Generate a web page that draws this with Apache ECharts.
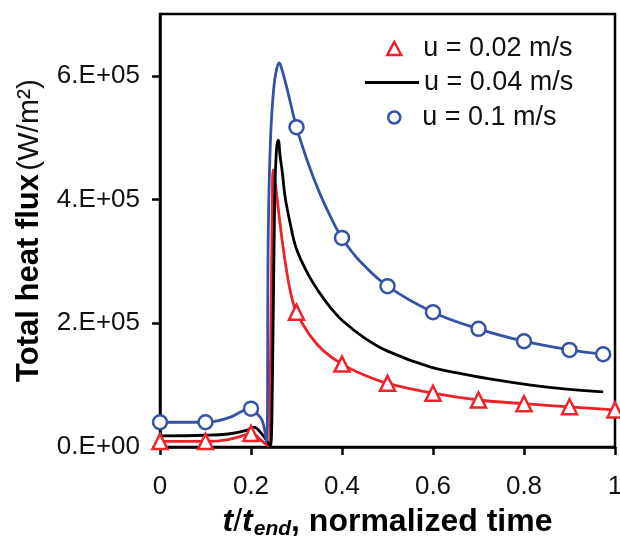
<!DOCTYPE html>
<html lang="en" style="height: 100%">
<head>
<meta charset="utf-8">
<title>Total heat flux vs normalized time</title>
</head>
<body style="height: 100%; margin: 0; background: #fff">
<div id="container" style="width: 620px; height: 536px"></div>

<script type="text/javascript" src="https://cdn.jsdelivr.net/npm/echarts/dist/echarts.min.js"></script>

<script type="text/javascript">

// Data: [t/t_end, heat flux W/m2]
var nameSlow = 'u = 0.02 m/s';
var nameMid = 'u = 0.04 m/s';
var nameFast = 'u = 0.1 m/s';

var slowCurve = [
  [0, 9e3], [0.1, 9e3], [0.15, 1.2e4], [0.19, 2.0e4], [0.2, 2.2e4], [0.21, 1.9e4],
  [0.225, 9e3], [0.238, 2e3], [0.243, 1.5e5], [0.247, 4.0e5], [0.249, 4.48e5],
  [0.256, 4.1e5], [0.264, 3.6e5], [0.275, 3.0e5], [0.287, 2.5e5], [0.3, 2.18e5],
  [0.33, 1.8e5], [0.36, 1.55e5], [0.4, 1.34e5], [0.45, 1.16e5], [0.5, 1.03e5],
  [0.6, 8.7e4], [0.7, 7.6e4], [0.8, 7.0e4], [0.9, 6.5e4], [1.0, 6.0e4]
];
var slowMarks = [
  [0, 9e3], [0.1, 9e3], [0.2, 2.2e4], [0.3, 2.18e5], [0.4, 1.34e5], [0.5, 1.03e5],
  [0.6, 8.7e4], [0.7, 7.6e4], [0.8, 7.0e4], [0.9, 6.5e4], [1.0, 6.0e4]
];

var midCurve = [
  [0, 1.8e4], [0.1, 1.9e4], [0.15, 2.1e4], [0.19, 2.7e4], [0.205, 3.2e4], [0.225, 2.0e4],
  [0.24, 4e3], [0.243, 3e3], [0.247, 1.0e5], [0.252, 4.0e5], [0.256, 4.8e5], [0.26, 4.96e5],
  [0.264, 4.7e5], [0.269, 4.43e5], [0.275, 4.04e5], [0.286, 3.62e5], [0.3, 3.2e5],
  [0.325, 2.8e5], [0.35, 2.5e5], [0.375, 2.25e5], [0.4, 2.05e5], [0.45, 1.76e5],
  [0.5, 1.55e5], [0.595, 1.29e5], [0.667, 1.18e5], [0.742, 1.08e5], [0.815, 1.0e5],
  [0.888, 9.4e4], [0.974, 8.9e4]
];

var fastCurve = [
  [0, 4.0e4], [0.1, 4.0e4], [0.15, 4.7e4], [0.2, 6.2e4], [0.21, 5.6e4], [0.225, 4.2e4],
  [0.234, 8e3], [0.238, 3.5e5], [0.243, 5.0e5], [0.25, 5.8e5], [0.256, 6.1e5],
  [0.262, 6.21e5], [0.268, 6.1e5], [0.28, 5.77e5], [0.3, 5.17e5], [0.325, 4.6e5],
  [0.35, 4.12e5], [0.375, 3.72e5], [0.4, 3.38e5], [0.44, 3.0e5], [0.5, 2.6e5],
  [0.6, 2.18e5], [0.7, 1.91e5], [0.8, 1.71e5], [0.9, 1.57e5], [0.974, 1.5e5]
];
var fastMarks = [
  [0, 4.0e4], [0.1, 4.0e4], [0.2, 6.2e4], [0.3, 5.17e5], [0.4, 3.38e5], [0.5, 2.6e5],
  [0.6, 2.18e5], [0.7, 1.91e5], [0.8, 1.71e5], [0.9, 1.57e5], [0.974, 1.5e5]
];

var yTicks = [0, 2e5, 4e5, 6e5];

var RED = '#ee2229';
var BLUE = '#3552a6';
var FONT = 'Liberation Sans';

var dom = document.getElementById('container');
var myChart = echarts.init(dom, null, { renderer: 'canvas' });

function legendBox(name, left, top, icon, w, h, style, pad) {
  return {
    data: [{ name: name, icon: icon, itemStyle: style }],
    left: left,
    top: top,
    orient: 'vertical',
    itemWidth: w,
    itemHeight: h,
    selectedMode: false,
    textStyle: { fontFamily: FONT, fontSize: 27, color: '#111', padding: [0, 0, 0, pad] }
  };
}

var option = {
  animation: false,
  backgroundColor: '#fff',
  textStyle: { fontFamily: FONT },
  grid: {
    left: 160, right: 5, top: 14, bottom: 89,
    show: true, borderColor: '#000', borderWidth: 2.5,
    outerBoundsMode: 'none'
  },
  legend: [
    legendBox(nameSlow, 381, 30, 'triangle', 14, 13,
      { color: '#fff', borderColor: RED, borderWidth: 2.5 }, 17),
    legendBox(nameMid, 360, 64, 'rect', 54, 3, { color: '#000', borderWidth: 0 }, 0),
    legendBox(nameFast, 382, 99, 'circle', 12, 12,
      { color: '#fff', borderColor: BLUE, borderWidth: 2.5 }, 17)
  ],
  xAxis: {
    type: 'value',
    min: 0, max: 1, interval: 0.2,
    splitLine: { show: false },
    axisLine: { onZero: false, lineStyle: { color: '#000', width: 2.5 } },
    axisTick: { length: 8, lineStyle: { color: '#000', width: 2.5 } },
    axisLabel: { margin: 27, fontSize: 26, color: '#111', fontFamily: FONT },
    name: '{i|t}{r|/}{i|t}{s|end}{b|, normalized time}',
    nameLocation: 'middle',
    nameGap: 57,
    nameTextStyle: {
      rich: {
        i: { fontFamily: FONT, fontSize: 32, fontWeight: 'bold', fontStyle: 'italic', color: '#000', lineHeight: 36, verticalAlign: 'middle' },
        r: { fontFamily: FONT, fontSize: 32, fontWeight: 'normal', color: '#000', lineHeight: 36, verticalAlign: 'middle' },
        s: { fontFamily: FONT, fontSize: 21, fontWeight: 'bold', fontStyle: 'italic', color: '#000', lineHeight: 36, verticalAlign: 'bottom', padding: [12, 0, 0, 1] },
        b: { fontFamily: FONT, fontSize: 32, fontWeight: 'bold', color: '#000', lineHeight: 36, verticalAlign: 'middle' }
      }
    }
  },
  yAxis: {
    type: 'value',
    min: 0, max: 7e5, interval: 2e5,
    splitLine: { show: false },
    axisLine: { lineStyle: { color: '#000', width: 2.5 } },
    axisTick: { length: 8, customValues: yTicks, lineStyle: { color: '#000', width: 2.5 } },
    axisLabel: {
      margin: 20, fontSize: 26, color: '#111', fontFamily: FONT,
      customValues: yTicks,
      formatter: function (v) {
        return v === 0 ? '0.E+00' : (v / 1e5) + '.E+05';
      }
    },
    name: '{b|Total heat flux} {n|(W/m²)}',
    nameLocation: 'middle',
    nameGap: 115,
    nameTextStyle: {
      rich: {
        b: { fontFamily: FONT, fontSize: 31, fontWeight: 'bold', color: '#000' },
        n: { fontFamily: FONT, fontSize: 30, color: '#111' }
      }
    }
  },
  series: [
    {
      name: nameSlow, type: 'line', data: slowCurve, showSymbol: false,
      smooth: 0.4,
      lineStyle: { color: RED, width: 2.8 }, itemStyle: { color: RED }, z: 2
    },
    {
      name: nameMid, type: 'line', data: midCurve, showSymbol: false,
      smooth: 0.4,
      lineStyle: { color: '#000', width: 2.8 }, itemStyle: { color: '#000' }, z: 2
    },
    {
      name: nameFast, type: 'line', data: fastCurve, showSymbol: false,
      smooth: 0.4,
      lineStyle: { color: BLUE, width: 2.8 }, itemStyle: { color: BLUE }, z: 2
    },
    {
      name: nameSlow, type: 'scatter', data: slowMarks, symbol: 'triangle', symbolSize: 15,
      itemStyle: { color: '#fff', borderColor: RED, borderWidth: 2.5, opacity: 1 }, z: 4
    },
    {
      name: nameFast, type: 'scatter', data: fastMarks, symbol: 'circle', symbolSize: 14,
      itemStyle: { color: '#fff', borderColor: BLUE, borderWidth: 2.5, opacity: 1 }, z: 4
    }
  ]
};

myChart.setOption(option);
window.addEventListener('resize', myChart.resize);
</script>
</body>
</html>
